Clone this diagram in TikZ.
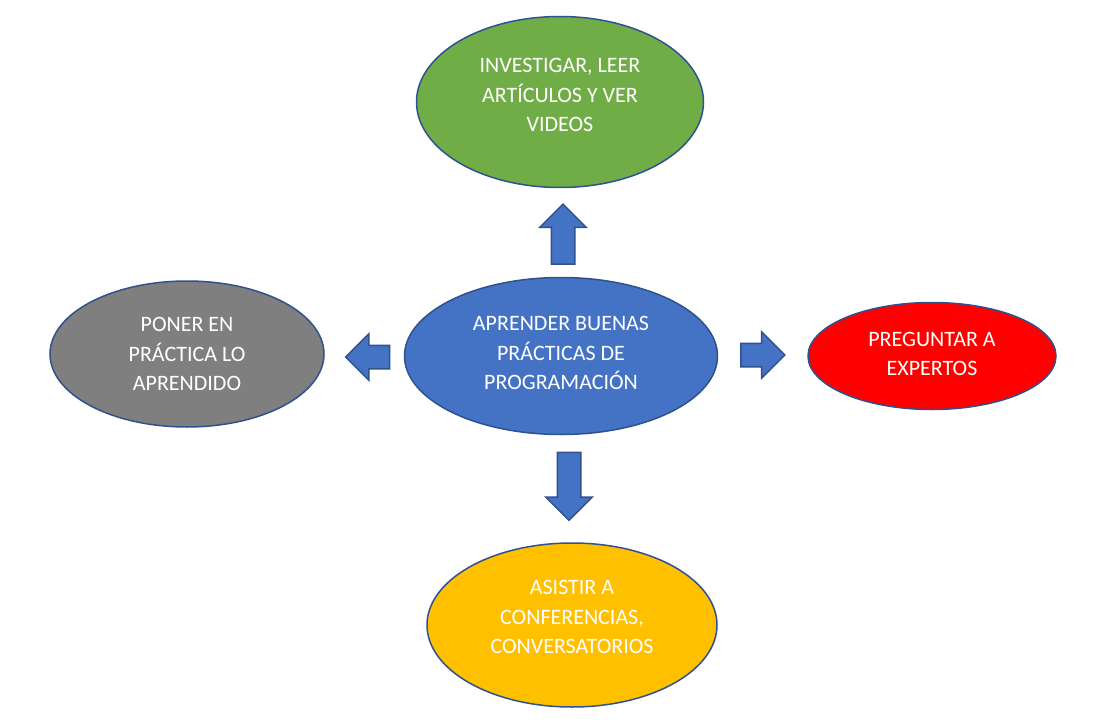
\documentclass[tikz,border=0pt]{standalone}
\usepackage{fontspec}
\setmainfont{Carlito}
\usetikzlibrary{shapes.geometric,shapes.arrows}
\definecolor{edgeblue}{HTML}{2F528F}
\definecolor{midblue}{HTML}{4472C4}
\definecolor{leafgreen}{HTML}{70AD47}
\definecolor{stonegray}{HTML}{7F7F7F}
\definecolor{gold}{HTML}{FFC000}

\tikzset{
  bubble/.style={ellipse, draw=edgeblue, line width=1.5pt, inner sep=0pt},
  txt/.style={text=white, align=center, font=\fontsize{22}{29.5}\selectfont},
  blockarrow/.style={single arrow, draw=edgeblue, fill=midblue, line width=1.5pt,
    inner sep=0pt, inner ysep=11pt, single arrow head extend=11.5pt,
    single arrow tip angle=90}
}

\begin{document}
\begin{tikzpicture}[x=1pt,y=-1pt]
\useasboundingbox (0,0) rectangle (1116,722);

\node (A) at (561,356) [bubble, fill=midblue, minimum width=313, minimum height=157,
  label={[txt, yshift=3]center:APRENDER BUENAS\\PRÁCTICAS DE\\PROGRAMACIÓN}] {};
\node (B) at (560,102) [bubble, fill=leafgreen, minimum width=287, minimum height=171,
  label={[txt, yshift=7]center:INVESTIGAR, LEER\\ARTÍCULOS Y VER\\VIDEOS}] {};
\node (C) at (932,356) [bubble, fill=red, minimum width=248, minimum height=107,
  label={[txt, yshift=2]center:PREGUNTAR A\\EXPERTOS}] {};
\node (D) at (572,625) [bubble, fill=gold, minimum width=290, minimum height=164,
  label={[txt, yshift=8]center:ASISTIR A\\CONFERENCIAS,\\CONVERSATORIOS}] {};
\node (E) at (187,354) [bubble, fill=stonegray, minimum width=274, minimum height=146,
  label={[txt]center:PONER EN\\PRÁCTICA LO\\APRENDIDO}] {};

\node (AB) at (563,240) [blockarrow, minimum height=60, rotate=90] {};
\node (AC) at (757,355) [blockarrow, minimum height=44] {};
\node (AD) at (569,480.5) [blockarrow, minimum height=68, rotate=-90] {};
\node (AE) at (373.5,357) [blockarrow, minimum height=44, rotate=180] {};

\end{tikzpicture}
\end{document}
